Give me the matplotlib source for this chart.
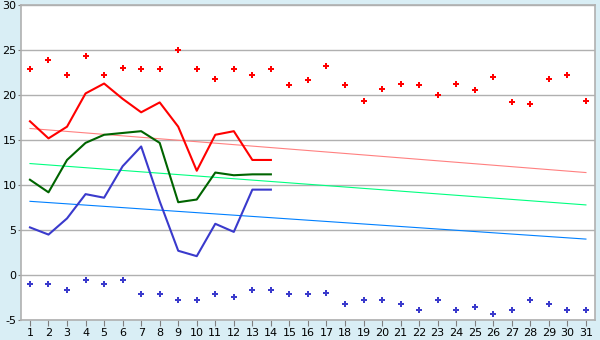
import matplotlib.pyplot as plt

plt.rcParams['axes.unicode_minus'] = False

# days of the month
days = list(range(1, 32))
days_line = list(range(1, 15))

# daily extremes (points)
max_pts = [22.9, 23.9, 22.3, 24.4, 22.2, 23.0, 22.9, 22.9, 25.0, 22.9,
           21.8, 22.9, 22.2, 22.9, 21.1, 21.7, 23.3, 21.1, 19.4, 20.7,
           21.3, 21.1, 20.0, 21.3, 20.6, 22.0, 19.2, 19.0, 21.8, 22.2, 19.4]
min_pts = [-1.0, -1.0, -1.7, -0.6, -1.0, -0.6, -2.1, -2.1, -2.8, -2.8,
           -2.1, -2.4, -1.7, -1.7, -2.1, -2.1, -2.0, -3.2, -2.8, -2.8,
           -3.2, -3.9, -2.8, -3.9, -3.6, -4.3, -3.9, -2.8, -3.2, -3.9, -3.9]

# measured lines (first 14 days)
high_line = [17.1, 15.2, 16.5, 20.2, 21.3, 19.6, 18.1, 19.2, 16.5, 11.6,
             15.6, 16.0, 12.8, 12.8]
mean_line = [10.6, 9.2, 12.8, 14.7, 15.6, 15.8, 16.0, 14.7, 8.1, 8.4,
             11.4, 11.1, 11.2, 11.2]
low_line = [5.3, 4.5, 6.3, 9.0, 8.6, 12.1, 14.3, 8.2, 2.7, 2.1,
            5.7, 4.8, 9.5, 9.5]

# trend lines (start, end)
high_trend = [16.3, 11.4]
mean_trend = [12.4, 7.8]
low_trend = [8.2, 4.0]
trend_x = [1, 31]

fig = plt.figure(figsize=(6, 3.4), dpi=100)
fig.patch.set_facecolor('#d9eef5')
ax = fig.add_axes([0.0345, 0.0588, 0.9575, 0.9256])
ax.set_facecolor('white')

ax.plot(trend_x, high_trend, color='#ff8080', lw=0.8)
ax.plot(trend_x, mean_trend, color='#00ff80', lw=0.8)
ax.plot(trend_x, low_trend, color='#0080ff', lw=0.8)

ax.plot(days_line, high_line, color='#ff0000', lw=1.5)
ax.plot(days_line, mean_line, color='#006400', lw=1.5)
ax.plot(days_line, low_line, color='#3a3acc', lw=1.5)

ax.plot(days, max_pts, ls='none', marker='P', ms=4.5, color='#ff0000', mew=0)
ax.plot(days, min_pts, ls='none', marker='P', ms=4.5, color='#3a3acc', mew=0)

ax.set_xlim(0.5, 31.5)
ax.set_ylim(-5, 30)
ax.set_xticks(days)
ax.set_yticks(range(-5, 31, 5))
ax.grid(axis='y', color='#b0b0b0', lw=1)
ax.set_axisbelow(True)

for s in ax.spines.values():
    s.set_color('#b0b0b0')
    s.set_linewidth(1.2)
ax.tick_params(colors='#808080', labelcolor='black', labelsize=8)
ax.tick_params(axis='x', length=4, pad=2)
ax.tick_params(axis='y', length=2, pad=1)

plt.savefig('out.png', dpi=100, facecolor=fig.get_facecolor())
